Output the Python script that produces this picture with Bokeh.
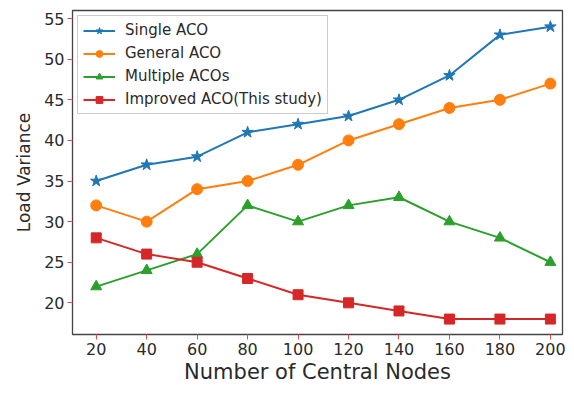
from bokeh.plotting import figure
from bokeh.models import Range1d, Legend, LegendItem, FixedTicker
from bokeh.embed import file_html
from bokeh.resources import INLINE

nodes = [20, 40, 60, 80, 100, 120, 140, 160, 180, 200]
single_aco = [35, 37, 38, 41, 42, 43, 45, 48, 53, 54]
general_aco = [32, 30, 34, 35, 37, 40, 42, 44, 45, 47]
multiple_acos = [22, 24, 26, 32, 30, 32, 33, 30, 28, 25]
improved_aco = [28, 26, 25, 23, 21, 20, 19, 18, 18, 18]
y_ticks = [20, 25, 30, 35, 40, 45, 50, 55]

p = figure(width=566, height=386, output_backend="svg", toolbar_location=None,
           x_range=Range1d(10.6, 204.8), y_range=Range1d(16.1, 56.0),
           min_border_left=72, min_border_right=4, min_border_top=10, min_border_bottom=52)
p.grid.visible = False
p.outline_line_color = "#444444"
p.outline_line_width = 1.3
p.background_fill_color = "white"

font = "DejaVu Sans"
for ax in (p.xaxis[0], p.yaxis[0]):
    ax.axis_line_color = None
    ax.major_tick_line_color = "#e05050"
    ax.major_tick_out = 5
    ax.major_tick_in = 0
    ax.minor_tick_line_color = None
    ax.major_label_text_font = font
    ax.major_label_text_font_size = "16px"
    ax.major_label_text_color = "#2a2a2a"
    ax.axis_label_text_font = font
    ax.axis_label_text_font_style = "normal"
    ax.axis_label_text_color = "#2a2a2a"
    ax.major_label_standoff = 3

p.xaxis[0].ticker = FixedTicker(ticks=nodes)
p.yaxis[0].ticker = FixedTicker(ticks=y_ticks)
p.xaxis[0].axis_label = "Number of Central Nodes"
p.xaxis[0].axis_label_text_font_size = "21px"
p.xaxis[0].axis_label_standoff = 2
p.yaxis[0].axis_label = "Load Variance"
p.yaxis[0].axis_label_text_font_size = "17px"
p.yaxis[0].axis_label_standoff = 7

series = [
    ("Single ACO", single_aco, "#1f77b4", "star", 12),
    ("General ACO", general_aco, "#ff7f0e", "circle", 11),
    ("Multiple ACOs", multiple_acos, "#2ca02c", "triangle", 11),
    ("Improved ACO(This study)", improved_aco, "#d62728", "square", 10),
]
items = []
for name, ys, color, marker, size in series:
    l = p.line(nodes, ys, line_color=color, line_width=2)
    m = p.scatter(nodes, ys, marker=marker, size=size, fill_color=color, line_color=color)
    items.append(LegendItem(label=name, renderers=[l, m]))

legend = Legend(items=items, location="top_left")
legend.label_text_font = font
legend.label_text_font_size = "15px"
legend.label_text_color = "#2a2a2a"
legend.border_line_color = "#cccccc"
legend.border_line_alpha = 1
legend.background_fill_alpha = 0.9
legend.glyph_width = 32
legend.glyph_height = 17
legend.spacing = 5
legend.padding = 5
legend.margin = 5
legend.label_standoff = 10
p.add_layout(legend)

open("out.html", "w").write(file_html(p, INLINE))
